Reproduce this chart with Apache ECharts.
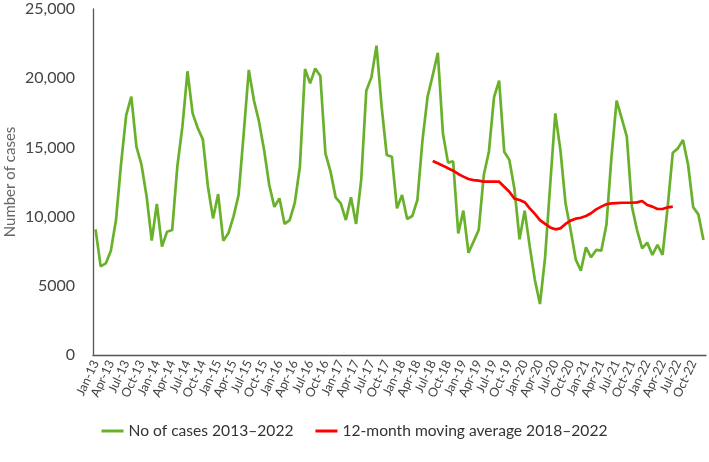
<!DOCTYPE html>
<html>
<head>
<meta charset="utf-8">
<script src="https://cdn.jsdelivr.net/npm/echarts@6/dist/echarts.min.js"></script>
<style>html,body{margin:0;padding:0;background:#fff}#c{width:709px;height:462px}</style>
</head>
<body>
<div id="c"></div>
<script>
var monthNames = ['Jan','Feb','Mar','Apr','May','Jun','Jul','Aug','Sep','Oct','Nov','Dec'];
var years = ['13','14','15','16','17','18','19','20','21','22'];
var categories = [];
years.forEach(function (y) { monthNames.forEach(function (m) { categories.push(m + '-' + y); }); });

var cases = [
  9080, 6400, 6620, 7540, 9750, 13850, 17340, 18670, 15050, 13730, 11440, 8260,
  10910, 7830, 8910, 9030, 13600, 16500, 20500, 17460, 16400, 15580, 12160, 9870,
  11630, 8260, 8790, 10000, 11560, 16000, 20600, 18400, 16860, 14800, 12280, 10700,
  11320, 9470, 9750, 11000, 13600, 20660, 19630, 20700, 20160, 14570, 13250, 11390,
  10960, 9750, 11390, 9470, 12640, 19100, 20060, 22350, 17940, 14450, 14330, 10600,
  11560, 9830, 10040, 11200, 15530, 18670, 20200, 21840, 16000, 13900, 14000, 8790,
  10430, 7390, 8190, 9030, 13000, 14690, 18620, 19820, 14690, 14100, 12000, 8360,
  10430, 7830, 5420, 3680, 7050, 12300, 17460, 14800, 10960, 9030, 6910, 6090,
  7780, 7060, 7590, 7540, 9390, 14330, 18380, 17100, 15780, 10720, 9030, 7710,
  8120, 7230, 7950, 7230, 10720, 14620, 14930, 15530, 13730, 10670, 10160, 8310
];

var maStartIndex = 66; // Jul-18
var movingAvg = [
  14020, 13850, 13680, 13490, 13320, 13080, 12890, 12720, 12640, 12600, 12520, 12520,
  12520, 12520, 12160, 11800, 11300, 11200, 11040, 10600, 10190, 9750, 9470, 9220,
  9080, 9150, 9470, 9710, 9850, 9920, 10040, 10240, 10520, 10720, 10890, 10960,
  10980, 11000, 11000, 11000, 11030, 11130, 10840, 10720, 10550, 10550, 10670, 10720
];

var yTicks = [0, 5000, 10000, 15000, 20000, 25000];

var maFull = categories.map(function (c, i) {
  var k = i - maStartIndex;
  return (k >= 0 && k < movingAvg.length) ? movingAvg[k] : null;
});

var chart = echarts.init(document.getElementById('c'), null, {renderer: 'canvas'});
var font = 'Lato, "Noto Sans", sans-serif';
chart.setOption({
  animation: false,
  textStyle: {fontFamily: font},
  grid: {left: 93, right: 3, top: 9, bottom: 107, containLabel: false, outerBoundsMode: 'none'},
  legend: {
    bottom: 18,
    left: 'center',
    itemGap: 22,
    itemWidth: 22,
    itemHeight: 3,
    icon: 'rect',
    textStyle: {fontFamily: font, fontSize: 15.6, color: '#333'},
    data: ['No of cases 2013\u20132022', '12-month moving average 2018\u20132022']
  },
  xAxis: {
    type: 'category',
    data: categories,
    boundaryGap: true,
    axisLine: {lineStyle: {color: '#555', width: 1.3}},
    axisTick: {show: false},
    axisLabel: {
      interval: 2,
      rotate: 65,
      fontSize: 12.5,
      color: '#444',
      fontFamily: font,
      margin: 6
    }
  },
  yAxis: {
    type: 'value',
    min: yTicks[0],
    max: yTicks[yTicks.length - 1],
    interval: 5000,
    name: 'Number of cases',
    nameLocation: 'middle',
    nameGap: 75,
    nameMoveOverlap: false,
    nameTextStyle: {fontFamily: font, fontSize: 15, color: '#666'},
    axisLine: {show: true, lineStyle: {color: '#555', width: 1.3}},
    axisTick: {show: false},
    splitLine: {show: false},
    axisLabel: {
      fontSize: 16,
      color: '#444',
      fontFamily: font,
      margin: 18,
      formatter: function (v) { return v >= 10000 ? echarts.format.addCommas(v) : String(v); }
    }
  },
  series: [
    {
      name: 'No of cases 2013\u20132022',
      type: 'line',
      data: cases,
      symbol: 'none',
      lineStyle: {color: '#6AB12B', width: 2.7},
      itemStyle: {color: '#6AB12B'}
    },
    {
      name: '12-month moving average 2018\u20132022',
      type: 'line',
      data: maFull,
      symbol: 'none',
      connectNulls: false,
      lineStyle: {color: '#FF0000', width: 2.7},
      itemStyle: {color: '#FF0000'}
    }
  ]
});
</script>
</body>
</html>
